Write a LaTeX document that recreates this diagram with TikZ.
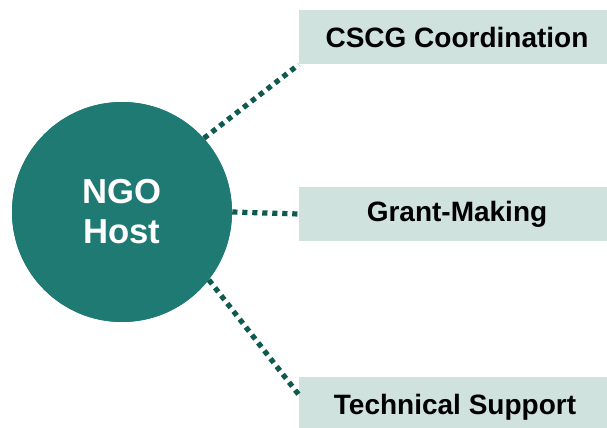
\documentclass[tikz,border=0pt]{standalone}
\usepackage{fontspec}
\setmainfont{Liberation Sans}
\definecolor{hostfill}{RGB}{30,122,115}
\definecolor{boxfill}{RGB}{208,226,222}
\definecolor{linkcol}{RGB}{14,90,80}
\begin{document}
\begin{tikzpicture}[x=0.75pt,y=-0.75pt,
  host/.style={circle,fill=hostfill,minimum size=165pt,inner sep=0pt,text=white,
    font=\fontsize{26}{30}\selectfont\bfseries,align=center},
  rolebox/.style={rectangle,fill=boxfill,minimum width=231pt,minimum height=41pt,inner sep=0pt,
    font=\fontsize{21}{24}\selectfont\bfseries,text=black},
  link/.style={draw=linkcol,line width=3.9pt,dash pattern=on 3.9pt off 3.6pt}]
\useasboundingbox (0,0) rectangle (607,428);
\node[rolebox] (cscg) at (453,37) {\hspace*{6pt}CSCG Coordination};
\node[rolebox] (grant) at (453,214) {\hspace*{6pt}Grant-Making};
\node[rolebox,minimum height=45pt] (tech) at (453,407) {\hspace*{3pt}Technical Support};
\coordinate (techin) at (299,395);
\node[host] (ngo) at (122,212) {};
\draw[link] (ngo.42) -- (cscg.south west);
\draw[link] (ngo.east) -- (grant.west);
\draw[link] (ngo.-38) -- (techin);
\node[host] at (122,212) {NGO\\Host};
\end{tikzpicture}
\end{document}
